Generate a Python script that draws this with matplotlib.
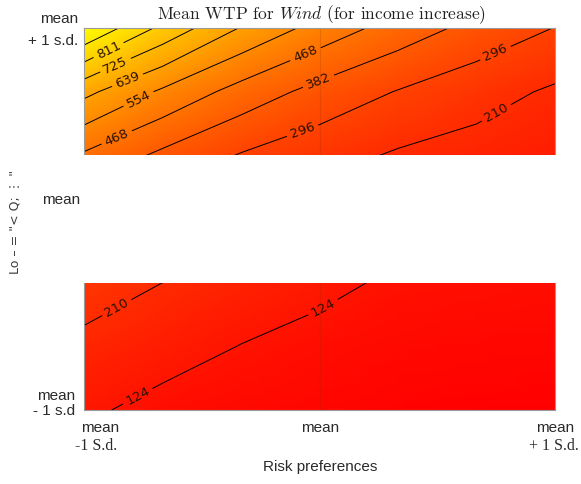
import numpy as np
import matplotlib
matplotlib.use("Agg")
import matplotlib.pyplot as plt
import matplotlib.transforms as mtransforms
from matplotlib.patches import Rectangle

# Grid of preference levels (in standard deviations around the mean)
risk_sd = [-1, -2/3, -1/3, 0, 1/3, 2/3, 1]
time_sd = [-1, -2/3, -1/3, 0, 1/3, 2/3, 1]

# Mean WTP for Wind at each grid node (rows: time_sd, columns: risk_sd)
wtp_row_m100 = [137, 100, 85, 74, 64, 56, 50]
wtp_row_m067 = [192, 157, 122, 100, 85, 76, 72]
wtp_row_m033 = [247, 210, 176, 142, 112, 105, 100]
wtp_row_000 = [308, 265, 225, 192, 163, 133, 117]
wtp_row_p033 = [456, 363, 290, 243, 200, 178, 157]
wtp_row_p067 = [662, 540, 435, 353, 292, 243, 198]
wtp_row_p100 = [983, 789, 634, 522, 431, 355, 294]

contour_levels = [124, 210, 296, 382, 468, 554, 639, 725, 811, 897]

W, H = 581, 484
fig = plt.figure(figsize=(W / 100, H / 100), dpi=100)
ax = fig.add_axes([84 / W, 74 / H, 471 / W, 382 / H])

X, Y = np.meshgrid(risk_sd, time_sd)
Z = np.array([wtp_row_m100, wtp_row_m067, wtp_row_m033, wtp_row_000,
              wtp_row_p033, wtp_row_p067, wtp_row_p100], dtype=float)

ax.pcolormesh(X, Y, Z, shading="gouraud", cmap="autumn",
              vmin=Z.min(), vmax=Z.max(), zorder=1)
ax.axvline(0, color="#8a2a00", alpha=0.18, lw=0.8, zorder=1.5)
cs = ax.contour(X, Y, Z, levels=contour_levels, colors="k",
                linewidths=0.7, zorder=2)


def px_to_data(x, y):
    return ((x - 84) / 235.5 - 1, 1 - (y - 28) / 191)


label_spots = [px_to_data(*p) for p in [
    (109, 51), (115, 64), (127, 79), (139, 100), (117, 138),
    (305, 53), (318, 80), (303, 132),
    (495, 52), (493, 107),
    (117, 308), (137, 395), (320, 302)]]
ax.clabel(cs, fmt="%d", fontsize=9.5, inline=True, inline_spacing=4,
          colors="#2a1200", manual=label_spots)

ax.set_xlim(-1, 1)
ax.set_ylim(-1, 1)
ax.set_xticks([])
ax.set_yticks([])
for sp in ax.spines.values():
    sp.set_color("#9a9a9a")
    sp.set_linewidth(0.8)

# blank middle band
band = Rectangle((-0.006, -1 / 3), 1.012, 2 / 3,
                 transform=mtransforms.blended_transform_factory(ax.transAxes, ax.transData),
                 facecolor="white", edgecolor="none", zorder=5, clip_on=False)
ax.add_patch(band)


def ftext(x, y, s, **kw):
    fig.text(x / W, 1 - y / H, s, **kw)


sans = dict(family="Liberation Sans", fontsize=11, color="#2a2a2a")
serif = dict(family="Liberation Serif", fontsize=11.5, color="#2a2a2a")

# title
plt.rcParams["mathtext.fontset"] = "cm"
ftext(321, 15, "Mean WTP for $Wind$ (for income increase)", family="cmr10",
      fontsize=12.5, ha="center", va="center", color="#222222")

# y tick labels
ftext(78, 19, "mean", ha="right", va="center", **sans)
ftext(78, 41, "+ 1 s.d.", ha="right", va="center", **sans)
ftext(80, 200, "mean", ha="right", va="center", **sans)
ftext(75, 396, "mean", ha="right", va="center", **sans)
ftext(75, 411, "- 1 s.d", ha="right", va="center", **sans)

# x tick labels
ftext(100, 428, "mean", ha="center", va="center", **sans)
ftext(96, 446, "-1 S.d.", ha="center", va="center", **serif)
ftext(320, 428, "mean", ha="center", va="center", **sans)
ftext(555, 428, "mean", ha="center", va="center", **sans)
ftext(554, 446, "+ 1 S.d.", ha="center", va="center", **serif)

# axis titles
ftext(320, 467, "Risk preferences", ha="center", va="center", **sans)
ftext(15, 222, "Lo \u2013 = \"< Q; \u22ee \"", rotation=90, ha="center",
      va="center", family="DejaVu Sans", fontsize=9, color="#3a3a3a")

fig.savefig("out.png", dpi=100, facecolor="white")
